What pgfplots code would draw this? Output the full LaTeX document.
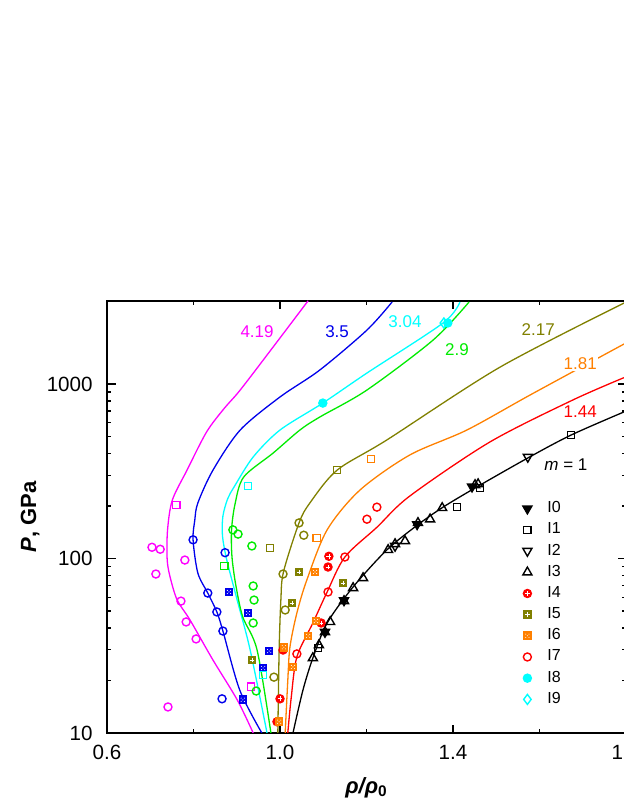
\documentclass[border=0pt]{standalone}
\usepackage{fontspec}
\setmainfont{Liberation Sans}
\usepackage{pgfplots}
\pgfplotsset{compat=1.18}
\definecolor{cmag}{RGB}{255,0,255}
\definecolor{cblue}{RGB}{0,0,235}
\definecolor{ccyan}{RGB}{0,255,255}
\definecolor{cgreen}{RGB}{0,235,0}
\definecolor{colive}{RGB}{128,128,0}
\definecolor{corange}{RGB}{255,128,0}
\definecolor{cred}{RGB}{255,0,0}

\pgfdeclareplotmark{sqdots}{%
  \pgfpathrectangle{\pgfqpoint{-\pgfplotmarksize}{-\pgfplotmarksize}}{\pgfqpoint{2\pgfplotmarksize}{2\pgfplotmarksize}}%
  \pgfusepathqfillstroke
  \pgfscope
  \pgfsetfillcolor{white}%
  \pgfpathcircle{\pgfqpoint{0.45\pgfplotmarksize}{0.45\pgfplotmarksize}}{0.15\pgfplotmarksize}%
  \pgfpathcircle{\pgfqpoint{-0.45\pgfplotmarksize}{0.45\pgfplotmarksize}}{0.15\pgfplotmarksize}%
  \pgfpathcircle{\pgfqpoint{0.45\pgfplotmarksize}{-0.45\pgfplotmarksize}}{0.15\pgfplotmarksize}%
  \pgfpathcircle{\pgfqpoint{-0.45\pgfplotmarksize}{-0.45\pgfplotmarksize}}{0.15\pgfplotmarksize}%
  \pgfpathcircle{\pgfqpoint{0pt}{0pt}}{0.15\pgfplotmarksize}%
  \pgfusepathqfill
  \endpgfscope
}
\pgfdeclareplotmark{sqgrid}{%
  \pgfpathrectangle{\pgfqpoint{-\pgfplotmarksize}{-\pgfplotmarksize}}{\pgfqpoint{2\pgfplotmarksize}{2\pgfplotmarksize}}%
  \pgfusepathqfillstroke
  \pgfscope
  \pgfsetstrokecolor{white}\pgfsetlinewidth{0.35pt}%
  \pgfpathmoveto{\pgfqpoint{-0.6\pgfplotmarksize}{0pt}}\pgfpathlineto{\pgfqpoint{0.6\pgfplotmarksize}{0pt}}%
  \pgfpathmoveto{\pgfqpoint{0pt}{-0.6\pgfplotmarksize}}\pgfpathlineto{\pgfqpoint{0pt}{0.6\pgfplotmarksize}}%
  \pgfusepathqstroke
  \endpgfscope
}
\pgfdeclareplotmark{circplus}{%
  \pgfpathcircle{\pgfqpoint{0pt}{0pt}}{\pgfplotmarksize}%
  \pgfusepathqfillstroke
  \pgfscope
  \pgfsetstrokecolor{white}\pgfsetlinewidth{0.35pt}%
  \pgfpathmoveto{\pgfqpoint{-0.6\pgfplotmarksize}{0pt}}\pgfpathlineto{\pgfqpoint{0.6\pgfplotmarksize}{0pt}}%
  \pgfpathmoveto{\pgfqpoint{0pt}{-0.6\pgfplotmarksize}}\pgfpathlineto{\pgfqpoint{0pt}{0.6\pgfplotmarksize}}%
  \pgfusepathqstroke
  \endpgfscope
}

\begin{document}
\begin{tikzpicture}
\begin{axis}[
  scale only axis, width=259.5pt, height=216pt,
  at={(0pt,0pt)}, anchor=south west,
  xmin=0.6, xmax=1.8, ymode=log, ymin=10, ymax=2992,
  xtick={0.6,1.0,1.4,1.8}, xticklabels={0.6,1.0,1.4,1.8},
  minor xtick={0.8,1.2,1.6},
  ytick={10,100,1000}, yticklabels={10,100,1000},
  tick align=inside, major tick length=4.25pt, minor tick length=2pt,
  axis line style={line width=0.65pt},
  every tick/.style={line width=0.6pt, black},
  ticklabel style={font=\fontsize{10.3}{12}\selectfont},
  xticklabel style={inner sep=0pt, anchor=north, yshift=-6pt},
  yticklabel style={inner sep=0pt, anchor=east, xshift=-7pt},
  xlabel={\textbf{\textit{ρ/ρ}\textsubscript{0}}},
  ylabel={\textbf{\textit{P}, GPa}},
  xlabel style={at={(axis description cs:0.5,-0.127)}, anchor=center, font=\fontsize{11}{13}\selectfont},
  ylabel style={at={(axis description cs:-0.148,0.5)}, anchor=center, font=\fontsize{11}{13}\selectfont},
  legend image code/.code={\path[use as bounding box, draw=none, fill=none] (-2.5pt,-2.5pt) rectangle (2.5pt,2.5pt); \draw[#1] plot coordinates {(0pt,0pt)};},
  legend cell align=left,
  legend style={draw=none, fill=none, inner sep=0pt, at={(axis cs:1.5595,216)}, anchor=north west,
    font=\fontsize{8}{9.6}\selectfont, row sep=2.55pt, nodes={inner sep=0.5pt},
    /tikz/every odd column/.append style={column sep=7pt}},
  every axis plot/.append style={line width=0.65pt},
  mk/.style={only marks, line width=0.7pt},
]
% ---------------- curves
\addplot[cmag, smooth, forget plot] coordinates {
(0.938,10)(0.901,15.5)(0.845,26.2)(0.792,44.4)(0.762,58)(0.745,80)(0.739,100)(0.740,146)(0.751,216)(0.785,321)(0.830,530)(0.870,720)(0.908,924)(0.984,1629)(1.065,3000)};
\addplot[cblue, smooth, forget plot] coordinates {
(0.958,10)(0.907,17.6)(0.868,38.4)(0.854,49.4)(0.833,63.4)(0.810,82.6)(0.799,128)(0.803,166)(0.810,208)(0.845,321)(0.908,545)(1.000,843)(1.092,1203)(1.201,2038)(1.259,2950)};
\addplot[ccyan, smooth, forget plot] coordinates {
(0.970,10)(0.931,29.9)(0.901,57.8)(0.877,98)(0.867,135)(0.868,175)(0.879,220)(0.895,260)(0.938,382)(1.000,545)(1.099,778)(1.201,1156)(1.377,2238)(1.416,2950)};
\addplot[cgreen, smooth, forget plot] coordinates {
(0.979,10)(0.947,29.9)(0.914,46.2)(0.898,70)(0.889,102)(0.888,146)(0.896,205)(0.916,293)(0.984,402)(1.046,545)(1.092,647)(1.201,924)(1.354,1787)(1.437,2950)};
\addplot[colive, smooth, forget plot] coordinates {
(0.995,10)(0.998,29.9)(1.002,57.8)(1.008,83.7)(1.044,160)(1.069,208)(1.132,321)(1.247,478)(1.509,1251)(1.800,2950)};
\addplot[corange, smooth, forget plot] coordinates {
(1.012,10)(1.018,20)(1.023,31.1)(1.039,48.7)(1.062,75.3)(1.109,146)(1.185,247)(1.300,392)(1.432,545)(1.580,870)(1.800,1720)};
\addplot[cred, smooth, forget plot] coordinates {
(1.018,10)(1.026,16)(1.039,27.3)(1.076,42.7)(1.109,64.3)(1.150,102)(1.224,151)(1.300,228)(1.485,465)(1.677,810)(1.800,1100)};
\addplot[black, smooth, forget plot] coordinates {
(1.030,10)(1.053,17.6)(1.076,26.9)(1.109,42.7)(1.169,68.7)(1.247,112)(1.317,155)(1.377,197)(1.455,257)(1.573,377)(1.673,510)(1.800,700)};
% ---------------- legend series
\addplot[mk, black, mark=triangle*, mark size=2.6pt, mark options={rotate=180}] coordinates {
(1.104,37.9)(1.148,57.5)(1.317,157)(1.444,258)};
\addlegendentry{I0}
\addplot[mk, black, mark=square, mark size=1.8pt] coordinates {
(1.088,30.7)(1.409,197)(1.462,253)(1.673,510)};
\addlegendentry{I1}
\addplot[mk, black, mark=triangle, mark size=2.6pt, mark options={rotate=180}] coordinates {
(1.573,382)(1.266,118)};
\addlegendentry{I2}
\addplot[mk, black, mark=triangle, mark size=2.6pt] coordinates {
(1.076,26.9)(1.090,31.9)(1.104,37.9)(1.116,43.3)(1.148,57.1)(1.169,67.8)(1.192,77.3)(1.250,112)(1.266,121)(1.289,126)(1.319,160)(1.347,168)(1.375,195)(1.451,264)(1.458,267)};
\addlegendentry{I3}
\addplot[mk, cred, mark=circplus, mark size=2pt] coordinates {
(1.113,103)(1.111,89.4)(1.007,29.9)(1.000,15.7)(0.993,11.6)(1.095,42.7)};
\addlegendentry{I4}
\addplot[mk, colive, mark=sqgrid, mark size=1.8pt] coordinates {
(1.044,83.7)(1.146,72.4)(1.028,55.6)(0.935,26.2)};
\addlegendentry{I5}
\addplot[mk, corange, mark=sqdots, mark size=1.8pt] coordinates {
(1.081,83.7)(1.083,43.8)(1.065,36)(1.030,23.9)(0.998,11.6)(1.009,31)};
\addlegendentry{I6}
\addplot[mk, cred, mark=o, mark size=2pt] coordinates {
(1.201,168)(1.224,197)(1.150,102)(1.111,64.3)(1.039,28.4)};
\addlegendentry{I7}
\addplot[mk, ccyan, mark=*, mark size=2pt] coordinates {
(1.099,778)(1.388,2238)};
\addlegendentry{I8}
\addplot[mk, ccyan, mark=diamond, mark size=2.5pt] coordinates {
(1.379,2238)};
\addlegendentry{I9}
% ---------------- other colored data
\addplot[mk, cmag, mark=o, mark size=2pt, forget plot] coordinates {
(0.704,116)(0.723,113)(0.780,98)(0.713,81.5)(0.771,57)(0.783,43.3)(0.806,34.6)(0.741,14.1)};
\addplot[mk, cmag, mark=square, mark size=1.8pt, forget plot] coordinates {
(0.760,203)(0.933,18.4)};
\addplot[mk, cblue, mark=o, mark size=2pt, forget plot] coordinates {
(0.799,128)(0.873,108)(0.833,63.4)(0.854,49.4)(0.868,38.4)(0.866,15.7)};
\addplot[mk, cblue, mark=sqdots, mark size=1.8pt, forget plot] coordinates {
(0.882,64.3)(0.926,48.7)(0.975,29.5)(0.961,23.6)(0.914,15.5)};
\addplot[mk, ccyan, mark=square, mark size=1.8pt, forget plot] coordinates {
(0.926,260)(0.961,21.5)};
\addplot[mk, cgreen, mark=o, mark size=2pt, forget plot] coordinates {
(0.891,146)(0.903,138)(0.935,118)(0.938,69.6)(0.940,57.8)(0.938,42.7)(0.945,17.4)};
\addplot[mk, cgreen, mark=square, mark size=1.8pt, forget plot] coordinates {
(0.871,90.6)};
\addplot[mk, colive, mark=o, mark size=2pt, forget plot] coordinates {
(1.044,160)(1.055,136)(1.007,81.5)(1.012,50.7)(0.986,20.9)};
\addplot[mk, colive, mark=square, mark size=1.8pt, forget plot] coordinates {
(0.977,115)(1.132,321)};
\addplot[mk, corange, mark=square, mark size=1.8pt, forget plot] coordinates {
(1.210,372)(1.085,131)};
% ---------------- curve labels
\begin{scope}[every node/.style={font=\fontsize{8.5}{10}\selectfont, inner sep=0.6pt}]
\node[text=cmag] at (axis cs:0.947,1986) {4.19};
\node[text=cblue] at (axis cs:1.132,1986) {3.5};
\node[text=ccyan] at (axis cs:1.289,2264) {3.04};
\node[text=cgreen] at (axis cs:1.409,1567) {2.9};
\node[text=colive] at (axis cs:1.597,2065) {2.17};
\node[text=corange, fill=white] at (axis cs:1.694,1303) {1.81};
\node[text=cred] at (axis cs:1.694,692) {1.44};
\node[text=black] at (axis cs:1.661,344) {\textit{m} = 1};
\end{scope}
\end{axis}
\pgfresetboundingbox
\useasboundingbox (-53.5pt,-36.5pt) rectangle (258pt,366.5pt);
\end{tikzpicture}
\end{document}
